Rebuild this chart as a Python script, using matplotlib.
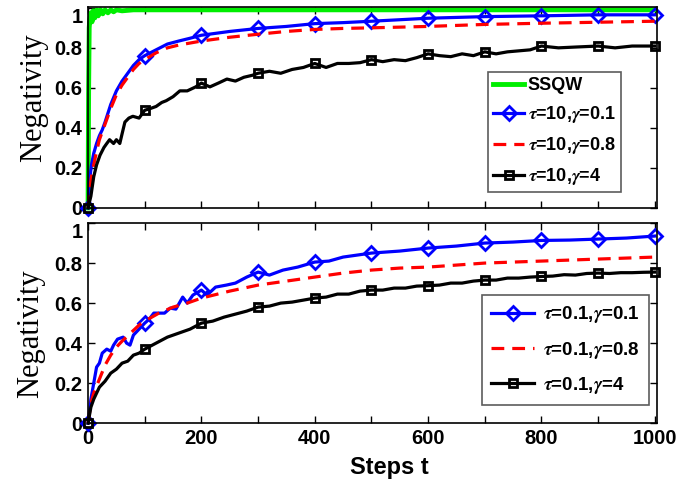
import matplotlib.pyplot as plt
import numpy as np

plt.rcParams['font.family'] = ['Liberation Sans', 'DejaVu Sans']
plt.rcParams['font.weight'] = 'bold'
plt.rcParams['mathtext.fontset'] = 'stix'

# ---- top panel data (tau = 10) ----
t_ssqw = [0, 1, 2, 3, 5, 7, 9, 12, 15, 18, 22, 26, 30, 35, 40, 45, 50, 60, 80, 100,
          200, 400, 600, 800, 1000]
ssqw = [0, 0.6, 0.9, 0.94, 0.975, 0.93, 0.985, 0.95, 0.99, 0.96, 0.99, 0.97, 0.99, 0.975,
        0.99, 0.98, 0.99, 0.985, 0.99, 0.99, 0.99, 0.99, 0.99, 0.99, 0.99]

t_top = [0, 3, 6, 10, 15, 20, 25, 30, 40, 50, 60, 70, 80, 90, 100, 120, 140, 160, 180, 200,
         250, 300, 350, 400, 450, 500, 600, 700, 800, 900, 1000]
top_g01 = [0, 0.146, 0.215, 0.273, 0.322, 0.361, 0.39, 0.429, 0.517, 0.585, 0.634, 0.673,
           0.712, 0.741, 0.761, 0.79, 0.819, 0.834, 0.848, 0.863, 0.882, 0.897, 0.907,
           0.921, 0.926, 0.933, 0.948, 0.956, 0.96, 0.965, 0.965]
top_g08 = [0, 0.098, 0.156, 0.215, 0.283, 0.341, 0.38, 0.419, 0.497, 0.566, 0.614, 0.653,
           0.692, 0.722, 0.741, 0.775, 0.8, 0.814, 0.824, 0.834, 0.853, 0.868, 0.882,
           0.892, 0.897, 0.9, 0.907, 0.917, 0.923, 0.928, 0.933]

t_top_g4 = [0, 5, 10, 15, 21, 28, 33, 38, 45, 50, 56, 60, 65, 72, 79, 90, 100, 110, 120, 130,
            138, 150, 162, 175, 190, 200, 215, 230, 245, 260, 275, 290, 300, 320, 340, 360,
            380, 400, 420, 440, 460, 480, 500, 520, 540, 560, 580, 600, 620, 640, 660, 680,
            700, 720, 740, 760, 780, 800, 830, 860, 900, 930, 960, 1000]
top_g4 = [0, 0.059, 0.156, 0.215, 0.263, 0.302, 0.322, 0.341, 0.322, 0.341, 0.322, 0.37,
          0.429, 0.449, 0.458, 0.449, 0.488, 0.497, 0.507, 0.527, 0.536, 0.556, 0.585,
          0.585, 0.605, 0.624, 0.605, 0.624, 0.644, 0.634, 0.653, 0.663, 0.673, 0.683,
          0.673, 0.692, 0.702, 0.722, 0.702, 0.722, 0.722, 0.726, 0.741, 0.731, 0.741,
          0.736, 0.751, 0.77, 0.761, 0.756, 0.77, 0.761, 0.78, 0.77, 0.78, 0.785, 0.79,
          0.809, 0.8, 0.804, 0.809, 0.8, 0.809, 0.809]

# ---- bottom panel data (tau = 0.1) ----
t_bot_g01 = [0, 5, 10, 15, 20, 25, 33, 40, 45, 52, 62, 68, 74, 80, 90, 100, 108, 116, 125,
             135, 145, 155, 167, 175, 185, 200, 210, 225, 244, 260, 280, 300, 320, 344, 370,
             400, 425, 450, 500, 550, 600, 650, 700, 750, 800, 850, 900, 950, 1000]
bot_g01 = [0, 0.12, 0.2, 0.28, 0.30, 0.35, 0.37, 0.36, 0.39, 0.42, 0.43, 0.40, 0.39, 0.44,
           0.47, 0.50, 0.52, 0.55, 0.55, 0.55, 0.575, 0.57, 0.63, 0.60, 0.64, 0.665, 0.64,
           0.68, 0.69, 0.70, 0.73, 0.755, 0.74, 0.765, 0.78, 0.805, 0.81, 0.83, 0.85, 0.86,
           0.875, 0.885, 0.90, 0.905, 0.913, 0.915, 0.92, 0.925, 0.935]

t_bot_g08 = [0, 5, 10, 20, 30, 40, 50, 60, 75, 90, 100, 125, 150, 175, 200, 250, 300, 350,
             400, 450, 500, 550, 600, 650, 700, 750, 800, 850, 900, 950, 1000]
bot_g08 = [0, 0.1, 0.15, 0.22, 0.29, 0.34, 0.38, 0.41, 0.45, 0.49, 0.51, 0.55, 0.58, 0.60,
           0.625, 0.66, 0.69, 0.71, 0.73, 0.75, 0.765, 0.775, 0.78, 0.79, 0.80, 0.805, 0.81,
           0.815, 0.82, 0.825, 0.83]

t_bot_g4 = [0, 5, 10, 20, 30, 40, 50, 60, 70, 80, 90, 100, 120, 140, 160, 180, 200, 220,
            240, 260, 280, 300, 320, 340, 360, 380, 400, 420, 440, 460, 480, 500, 520, 540,
            560, 580, 600, 620, 640, 660, 680, 700, 720, 740, 760, 780, 800, 820, 840, 860,
            880, 900, 920, 940, 960, 980, 1000]
bot_g4 = [0, 0.08, 0.12, 0.18, 0.21, 0.25, 0.27, 0.30, 0.31, 0.34, 0.35, 0.37, 0.40, 0.43,
          0.45, 0.47, 0.50, 0.51, 0.53, 0.545, 0.56, 0.58, 0.585, 0.60, 0.605, 0.615, 0.625,
          0.63, 0.645, 0.645, 0.66, 0.665, 0.665, 0.675, 0.675, 0.685, 0.687, 0.69, 0.70,
          0.70, 0.71, 0.715, 0.715, 0.725, 0.725, 0.73, 0.733, 0.735, 0.742, 0.74, 0.748,
          0.75, 0.748, 0.752, 0.752, 0.754, 0.755]

xticks = np.arange(0, 1001, 100)
yticks = [0, 0.2, 0.4, 0.6, 0.8, 1]
ytick_labels = ['0', '0.2', '0.4', '0.6', '0.8', '1']


def marks(t):
    return [i for i, v in enumerate(t) if v % 100 == 0]


def style(ax, ymax):
    ax.set_xlim(0, 1004)
    ax.set_ylim(0, ymax)
    ax.set_xticks(xticks)
    ax.set_yticks(yticks)
    labs = ax.set_yticklabels(ytick_labels)
    labs[-1].set_va('top')
    ax.tick_params(direction='in', top=True, right=True, length=5, width=1,
                   labelsize=14.5, pad=4)
    for s in ax.spines.values():
        s.set_linewidth(1.2)
    ax.set_ylabel('Negativity', family='Liberation Serif', fontweight='normal',
                  fontsize=22)


fig = plt.figure(figsize=(6.88, 4.87), dpi=100)
ax1 = fig.add_axes([0.128, 0.573, 0.827, 0.413])
ax2 = fig.add_axes([0.128, 0.131, 0.827, 0.411])

ax1.plot(t_ssqw, ssqw, color='#00ee00', lw=3.5, label='SSQW', clip_on=False)
ax1.plot(t_top, top_g01, color='blue', lw=2.3, marker='D', ms=7, mfc='none', mew=2,
         markevery=marks(t_top), clip_on=False, label=r'$\tau$=10,$\gamma$=0.1')
ax1.plot(t_top, top_g08, color='red', lw=2.3, ls=(0, (4, 2.5)), clip_on=False,
         label=r'$\tau$=10,$\gamma$=0.8')
ax1.plot(t_top_g4, top_g4, color='black', lw=2.3, marker='s', ms=6, mfc='none', mew=2,
         markevery=marks(t_top_g4), clip_on=False, label=r'$\tau$=10,$\gamma$=4')
style(ax1, 1.005)
ax1.set_xticklabels([])
ax1.yaxis.set_label_coords(-0.07, 0.55)
leg1 = ax1.legend(loc='upper left', bbox_to_anchor=(0.703, 0.677), fontsize=13,
                  frameon=True, fancybox=False, edgecolor='#333333', handlelength=1.7,
                  handletextpad=0.2, labelspacing=0.55, borderpad=0.3, borderaxespad=0)
leg1.get_frame().set_linewidth(1.2)

ax2.plot(t_bot_g01, bot_g01, color='blue', lw=2.3, marker='D', ms=7, mfc='none', mew=2,
         markevery=marks(t_bot_g01), clip_on=False, label=r'$\tau$=0.1,$\gamma$=0.1')
ax2.plot(t_bot_g08, bot_g08, color='red', lw=2.3, ls=(0, (4, 2.5)), clip_on=False,
         label=r'$\tau$=0.1,$\gamma$=0.8')
ax2.plot(t_bot_g4, bot_g4, color='black', lw=2.3, marker='s', ms=6, mfc='none', mew=2,
         markevery=marks(t_bot_g4), clip_on=False, label=r'$\tau$=0.1,$\gamma$=4')
style(ax2, 1.0)
ax2.set_xticklabels([str(v) if v % 200 == 0 else '' for v in xticks])
ax2.yaxis.set_label_coords(-0.075, 0.445)
ax2.set_xlabel('Steps t', fontsize=17, fontweight='bold')
ax2.xaxis.set_label_coords(0.53, -0.165)
leg2 = ax2.legend(loc='upper left', bbox_to_anchor=(0.692, 0.64), fontsize=13.5,
                  frameon=True, fancybox=False, edgecolor='#333333', handlelength=2.3,
                  handletextpad=0.45, labelspacing=0.75, borderpad=0.5, borderaxespad=0)
leg2.get_frame().set_linewidth(1.2)

fig.savefig('out.png', dpi=100)
